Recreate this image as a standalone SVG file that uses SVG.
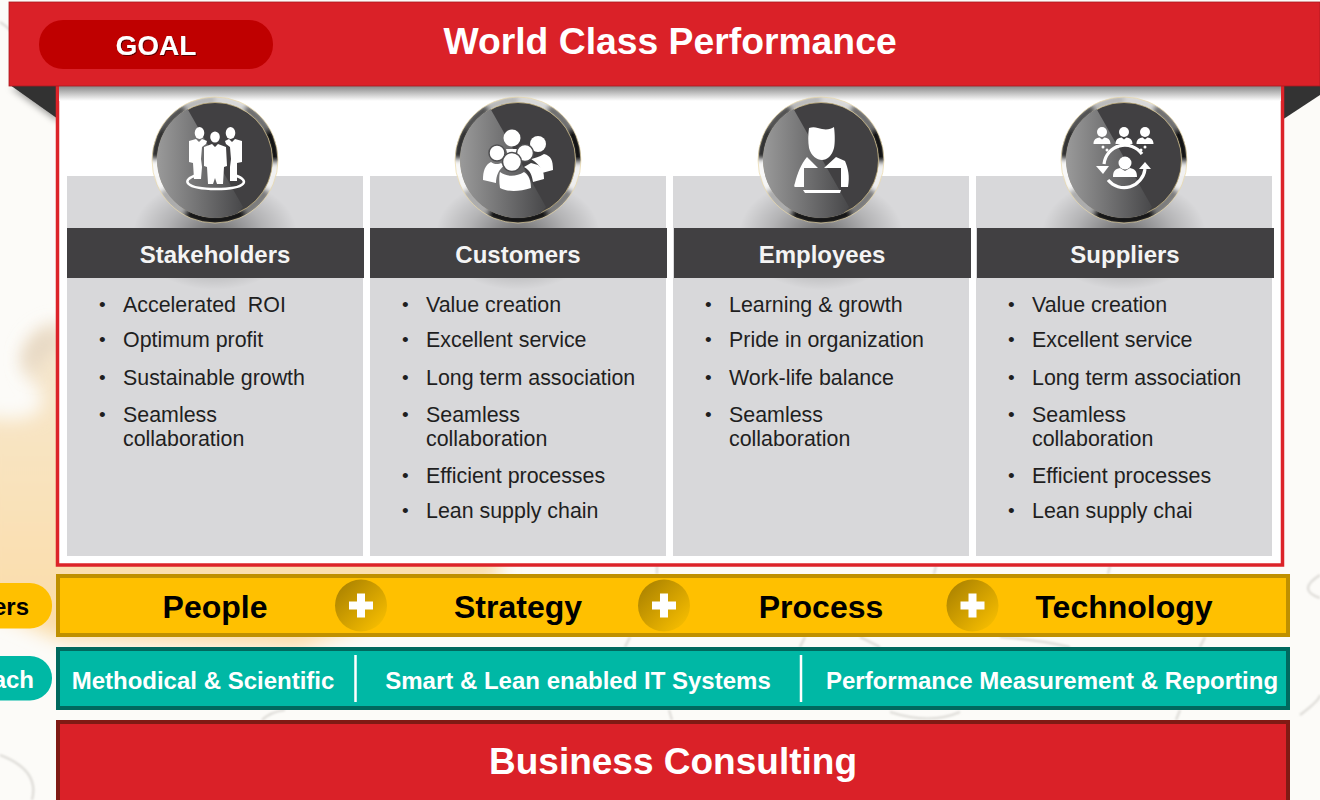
<svg xmlns="http://www.w3.org/2000/svg" width="1320" height="800" viewBox="0 0 1320 800">
<style>
text{font-family:"Liberation Sans",Arial,sans-serif}
.panel{fill:#d8d8da}
.band{fill:#414042}
.head{font-size:24px;font-weight:700;fill:#f4f4f4;text-anchor:middle}
.li{font-size:21.4px;fill:#1f1f1f}
.bu{font-size:19px;fill:#1f1f1f}
.pil{font-size:32px;font-weight:700;fill:#000;text-anchor:middle}
.app{font-size:24px;font-weight:700;fill:#fff;text-anchor:middle}
.ic{fill:#fff;stroke:none}
.seg{fill:none;stroke-width:9;stroke-dasharray:1.1 10.9}
.bgl{fill:none;stroke:#dcdad6;stroke-width:2.200}
</style>
<defs>
<filter id="b40" x="-50%" y="-50%" width="200%" height="200%"><feGaussianBlur stdDeviation="9"/></filter>
<filter id="soft" x="-20%" y="-20%" width="140%" height="140%"><feGaussianBlur stdDeviation="0.8"/></filter>
<filter id="rb" x="-20%" y="-20%" width="140%" height="140%"><feGaussianBlur stdDeviation="2.600"/></filter>
<filter id="ts" x="-10%" y="-20%" width="120%" height="150%"><feDropShadow dx="1" dy="1" stdDeviation="0.7" flood-color="#000" flood-opacity=".55"/></filter>
<filter id="hs" x="-20%" y="-20%" width="140%" height="160%"><feDropShadow dx="0" dy="3" stdDeviation="3" flood-color="#000" flood-opacity=".35"/></filter>
<linearGradient id="under" x1="0" y1="0" x2="0" y2="1"><stop offset="0" stop-color="#888"/><stop offset="1" stop-color="#fff"/></linearGradient>
<linearGradient id="gloss" gradientUnits="userSpaceOnUse" x1="-58" y1="0" x2="28" y2="0"><stop offset="0" stop-color="#9a9a9a"/><stop offset="1" stop-color="#48484a"/></linearGradient>
<linearGradient id="plusbg" x1="0" y1="0" x2="1" y2="1"><stop offset="0" stop-color="#a37c00"/><stop offset="1" stop-color="#ffc400"/></linearGradient>
<linearGradient id="wood" x1="0" y1="0" x2="0" y2="1"><stop offset="0" stop-color="#f3e6d2"/><stop offset=".35" stop-color="#f8e4c2"/><stop offset="1" stop-color="#fbdca6"/></linearGradient>
<radialGradient id="sh"><stop offset="0" stop-color="#000" stop-opacity=".5"/><stop offset=".6" stop-color="#000" stop-opacity=".17"/><stop offset="1" stop-color="#000" stop-opacity="0"/></radialGradient>
<clipPath id="disc"><circle r="58"/></clipPath>
<clipPath id="annulus"><path clip-rule="evenodd" d="M-63 0A63 63 0 1 0 63 0A63 63 0 1 0-63 0ZM-57.500 0A57.500 57.500 0 1 0 57.500 0A57.500 57.500 0 1 0-57.500 0Z"/></clipPath>
<g id="badge">
<g clip-path="url(#annulus)"><g filter="url(#rb)">
<circle class="seg" r="60" pathLength="12" stroke="#f0f0f0" stroke-dashoffset="0"/>
<circle class="seg" r="60" pathLength="12" stroke="#777" stroke-dashoffset="-1"/>
<circle class="seg" r="60" pathLength="12" stroke="#111" stroke-dashoffset="-2"/>
<circle class="seg" r="60" pathLength="12" stroke="#111" stroke-dashoffset="-3"/>
<circle class="seg" r="60" pathLength="12" stroke="#aaa" stroke-dashoffset="-4"/>
<circle class="seg" r="60" pathLength="12" stroke="#f8f8f8" stroke-dashoffset="-5"/>
<circle class="seg" r="60" pathLength="12" stroke="#222" stroke-dashoffset="-6"/>
<circle class="seg" r="60" pathLength="12" stroke="#444" stroke-dashoffset="-7"/>
<circle class="seg" r="60" pathLength="12" stroke="#b5b5b5" stroke-dashoffset="-8"/>
<circle class="seg" r="60" pathLength="12" stroke="#d5d5d5" stroke-dashoffset="-9"/>
<circle class="seg" r="60" pathLength="12" stroke="#666" stroke-dashoffset="-10"/>
<circle class="seg" r="60" pathLength="12" stroke="#000" stroke-dashoffset="-11"/>
</g></g>
<circle r="63" fill="none" stroke="#e9d9a8" stroke-width=".7"/>
<circle r="57.500" fill="#414042" stroke="#cdb97f" stroke-width=".7"/>
<path d="M-28-52L28 47 0 80-80 40-70-52Z" fill="url(#gloss)" clip-path="url(#disc)"/>
</g>
<g id="plus"><circle r="26" fill="url(#plusbg)"/><path class="ic" d="M-4-12H4V-4H12V4H4V12H-4V4H-12V-4H-4Z"/></g>
<g id="person"><circle cy="-5" r="5"/><path d="M-8.500 7c0-5 3-6 6-6.500L0 2.500 2.500.5c3 .5 6 1.500 6 6.500Z"/></g>
</defs>

<rect width="1320" height="800" fill="#fcfbf8"/>
<g id="background">
<path d="M-20 415Q20 425 38 412 50 398 30 378 18 360 30 340 40 325 70 322H500V580L440 600 300 648 60 640-20 605Z" fill="url(#wood)" filter="url(#b40)"/>
<path d="M22 362Q28 336 56 326V350Q36 352 36 378Z" fill="#e4d6c2" filter="url(#b40)"/>
<g filter="url(#soft)">
<path class="bgl" d="M0 22Q12 30 24 44"/>
<path class="bgl" d="M0 755Q40 770 32 800" stroke-width="3"/>
<path class="bgl" d="M657 566V574M936 566L934 574M1110 566L1108 574"/>
<path class="bgl" d="M625 647L630 637M800 647L805 637M860 637L880 647M1000 637Q1040 640 1070 647M1200 647L1205 637"/>
<path class="bgl" d="M262 720Q270 712 285 710M669 710L672 720M890 712Q930 725 960 712M1180 710L1176 720"/>
<path class="bgl" d="M1320 575Q1296 590 1320 598M1300 715Q1320 700 1320 695"/>
</g>
</g>

<g id="frame">
<polygon points="10,85 58,85 58,119" fill="#333" filter="url(#hs)"/>
<polygon points="1282,85 1320,85 1320,95 1282,120" fill="#333"/>
<rect x="57.500" y="84" width="1225" height="481" fill="#fff" stroke="#dc2329" stroke-width="3.500"/>
<rect x="59" y="86" width="1222" height="15" fill="url(#under)"/>
</g>

<g id="goal-bar">
<rect x="9" y="2" width="1311" height="84" fill="#da2128" stroke="#a81a1f" stroke-width=".8"/>
<rect x="39" y="20" width="234" height="49" rx="24" fill="#bf0000"/>
<text x="156" y="55" font-size="28" font-weight="700" fill="#fff" text-anchor="middle" filter="url(#ts)">GOAL</text>
<text x="670" y="54" font-size="37.300" font-weight="700" fill="#fff" text-anchor="middle">World Class Performance</text>
</g>

<g id="stakeholders">
<rect class="panel" x="67" y="176" width="296" height="380"/>
<clipPath id="c1"><rect x="67" y="176" width="296" height="380"/></clipPath>
<ellipse cx="215" cy="234" rx="82" ry="56" fill="url(#sh)" clip-path="url(#c1)"/>
<rect class="band" x="67" y="228" width="297" height="50"/>
<use href="#badge" transform="translate(215 160)"/>
<g class="ic" transform="translate(215 160)">
<ellipse cx="-15.500" cy="-27" rx="4.800" ry="6"/><ellipse cx="15.500" cy="-27" rx="4.800" ry="6"/><ellipse cy="-23" rx="4.800" ry="5.500"/>
<path d="M-26-19l7-2 3 3 3-3 5 2-1 3-4 3-1 12 1 8-1 12H-21L-22 3-26 2Z"/>
<path d="M27-19l-7-2-3 3-3-3-4 2 1 3 4 3 1 12-1 8 0 14H22L22 3 27 2Z"/>
<path d="M-11-13l8-3 3 3 3-3 8 3 1 19-3 1-1 17H2l-2-6-2 6H-7L-8 7-11 6Z"/>
<path d="M-18 15C-35 20-30 29 1 29S36 20 19 15" fill="none" stroke="#fff" stroke-width="2.400"/>
</g>
<text class="head" x="215" y="263">Stakeholders</text>
<g>
<text class="bu" x="99" y="311">•</text><text class="li" x="123" y="312" xml:space="preserve">Accelerated  ROI</text>
<text class="bu" x="99" y="346">•</text><text class="li" x="123" y="347">Optimum profit</text>
<text class="bu" x="99" y="384">•</text><text class="li" x="123" y="385">Sustainable growth</text>
<text class="bu" x="99" y="421">•</text><text class="li" x="123" y="422">Seamless</text>
<text class="li" x="123" y="446">collaboration</text>
</g>
</g>

<g id="customers">
<rect class="panel" x="370" y="176" width="296" height="380"/>
<clipPath id="c2"><rect x="370" y="176" width="296" height="380"/></clipPath>
<ellipse cx="518" cy="234" rx="82" ry="56" fill="url(#sh)" clip-path="url(#c2)"/>
<rect class="band" x="370" y="228" width="297" height="50"/>
<use href="#badge" transform="translate(518 160)"/>
<g transform="translate(518 160)" class="ic">
<circle cx="-6" cy="-22" r="8.500"/><circle cx="20" cy="-16" r="8"/>
<path d="M26-6c7 2 9 6 9 16l-11 3c-1-7-6-11-11-14 4-1 8-2 13-5Z"/>
<path d="M-12-11h12v3c-4 1-7 5-8 7-2-3-3-7-4-10Z"/>
<circle cx="-21" cy="-7" r="8" stroke="#505052" stroke-width="1.500"/><circle cx="7" cy="-7" r="8.500" stroke="#4d4d4f" stroke-width="1.500"/>
<path d="M-27 2c2 2 7 3 10 1l3 3c-5 3-8 10-8 17l-13-3c0-9 2-15 8-18Z"/>
<path d="M13 3l7 2c5 4 6 8 6 14l-11 3c-1-7-3-12-9-15Z"/>
<circle cx="-6" cy="2" r="9.500" stroke="#4f4f51" stroke-width="1.500"/>
<path d="M-18 12c7 5 16 5 24 0 5 3 7 9 7 16-12 4-24 4-31 0-1-6-1-12 0-16Z"/>
</g>
<text class="head" x="518" y="263">Customers</text>
<g>
<text class="bu" x="402" y="311">•</text><text class="li" x="426" y="312">Value creation</text>
<text class="bu" x="402" y="346">•</text><text class="li" x="426" y="347">Excellent service</text>
<text class="bu" x="402" y="384">•</text><text class="li" x="426" y="385">Long term association</text>
<text class="bu" x="402" y="421">•</text><text class="li" x="426" y="422">Seamless</text>
<text class="li" x="426" y="446">collaboration</text>
<text class="bu" x="402" y="482">•</text><text class="li" x="426" y="483">Efficient processes</text>
<text class="bu" x="402" y="517">•</text><text class="li" x="426" y="518">Lean supply chain</text>
</g>
</g>

<g id="employees">
<rect class="panel" x="673" y="176" width="296" height="380"/>
<clipPath id="c3"><rect x="673" y="176" width="296" height="380"/></clipPath>
<ellipse cx="821" cy="234" rx="82" ry="56" fill="url(#sh)" clip-path="url(#c3)"/>
<rect class="band" x="674" y="228" width="297" height="50"/>
<use href="#badge" transform="translate(821 160)"/>
<g transform="translate(821 160)" class="ic">
<path d="M-12-32c5-2 9 0 13 1 5 1 9 0 12-2 1 8 1 16 0 21-2 8-7 12-12 12s-11-4-13-12c-1-6-1-13 0-20Z"/>
<path d="M-14-3L-3 8H-17V27H-26C-27 27-27 25-26 23-24 14-20 4-14-3Z"/>
<path d="M15-3L24 1C27 8 29 16 27 27H20V8H3Z"/>
<path d="M-18 30H20L19 33H-16Z"/>
</g>
<text class="head" x="822" y="263">Employees</text>
<g>
<text class="bu" x="705" y="311">•</text><text class="li" x="729" y="312">Learning &amp; growth</text>
<text class="bu" x="705" y="346">•</text><text class="li" x="729" y="347">Pride in organization</text>
<text class="bu" x="705" y="384">•</text><text class="li" x="729" y="385">Work-life balance</text>
<text class="bu" x="705" y="421">•</text><text class="li" x="729" y="422">Seamless</text>
<text class="li" x="729" y="446">collaboration</text>
</g>
</g>

<g id="suppliers">
<rect class="panel" x="976" y="176" width="296" height="380"/>
<clipPath id="c4"><rect x="976" y="176" width="296" height="380"/></clipPath>
<ellipse cx="1124" cy="234" rx="82" ry="56" fill="url(#sh)" clip-path="url(#c4)"/>
<rect class="band" x="977" y="228" width="297" height="50"/>
<use href="#badge" transform="translate(1124 160)"/>
<g transform="translate(1124 160)" class="ic">
<use href="#person" transform="translate(-22 -23)"/><use href="#person" transform="translate(0 -23)"/><use href="#person" transform="translate(21 -23)"/>
<circle cx="-21" cy="-13" r="1.500"/><circle cx="-17" cy="-10" r="1.500"/><circle cx="21" cy="-13" r="1.500"/><circle cx="17" cy="-10" r="1.500"/>
<circle cx="1" cy="3" r="6.500"/>
<path d="M-11 17c0-6 2-8 7-9l5 3 5-3c5 1 7 3 7 9Z"/>
<path d="M-20 4A21 21 0 0 1 18-6" fill="none" stroke="#fff" stroke-width="3.200"/>
<path d="M21 9A21 21 0 0 1-16 20" fill="none" stroke="#fff" stroke-width="3.200"/>
<path d="M-28 6H-15L-21 14Z"/><path d="M15 9H27L21 2Z"/>
</g>
<text class="head" x="1125" y="263">Suppliers</text>
<g>
<text class="bu" x="1008" y="311">•</text><text class="li" x="1032" y="312">Value creation</text>
<text class="bu" x="1008" y="346">•</text><text class="li" x="1032" y="347">Excellent service</text>
<text class="bu" x="1008" y="384">•</text><text class="li" x="1032" y="385">Long term association</text>
<text class="bu" x="1008" y="421">•</text><text class="li" x="1032" y="422">Seamless</text>
<text class="li" x="1032" y="446">collaboration</text>
<text class="bu" x="1008" y="482">•</text><text class="li" x="1032" y="483">Efficient processes</text>
<text class="bu" x="1008" y="517">•</text><text class="li" x="1032" y="518">Lean supply chai</text>
</g>
</g>

<g id="pillars">
<rect x="-30" y="583" width="82" height="45.500" rx="22" fill="#ffc000"/>
<text x="29" y="615" font-size="24" font-weight="700" fill="#000" text-anchor="end">ers</text>
<rect x="58" y="576" width="1230" height="59" fill="#ffc000" stroke="#bf9000" stroke-width="4"/>
<text class="pil" x="215" y="618">People</text>
<text class="pil" x="518" y="618">Strategy</text>
<text class="pil" x="821" y="618">Process</text>
<text class="pil" x="1124" y="618">Technology</text>
<use href="#plus" transform="translate(361 605.500)"/>
<use href="#plus" transform="translate(664 605.500)"/>
<use href="#plus" transform="translate(972.500 605.500)"/>
</g>

<g id="approach">
<rect x="-30" y="656" width="82" height="44.500" rx="22" fill="#00b8a5"/>
<text x="34" y="688" font-size="24" font-weight="700" fill="#fff" text-anchor="end">ach</text>
<rect x="58" y="649" width="1230" height="59" fill="#00b8a5" stroke="#00695e" stroke-width="4"/>
<path d="M355.500 655V702M801 655V702" stroke="#fff" stroke-width="2.500"/>
<text class="app" x="203" y="688.500">Methodical &amp; Scientific</text>
<text class="app" x="578" y="688.500">Smart &amp; Lean enabled IT Systems</text>
<text class="app" x="1052" y="688.500">Performance Measurement &amp; Reporting</text>
</g>

<g id="business-consulting">
<rect x="58" y="722" width="1230" height="90" fill="#da2128" stroke="#801a14" stroke-width="4"/>
<text x="673" y="774" font-size="37" font-weight="700" fill="#fff" text-anchor="middle">Business Consulting</text>
</g>
</svg>
